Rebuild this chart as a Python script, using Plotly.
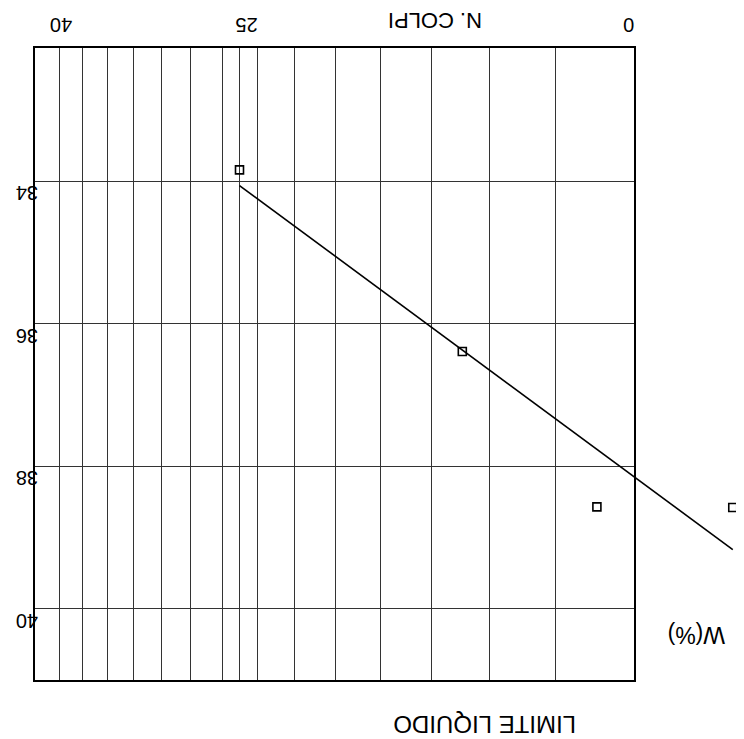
import math
import plotly.graph_objects as go

# ---- data ----
n_colpi = [25, 14.9, 10.9, 7.95]          # N. colpi (blows)
w_pct = [33.84, 36.39, 38.57, 38.58]      # water content W(%)
fit_n = [25, 7.95]                        # regression line ends
fit_w = [34.06, 39.17]
x_grid = [12, 14, 16, 18, 20, 22, 24, 25, 26, 28, 30, 32, 34, 36, 38]
x_tick_pos = [10.3, 24.7, 38.0]
x_tick_text = ["0", "25", "40"]
y_ticks = [34, 36, 38, 40]
y_tick_text = ["34", "36", "38", "40"]

# ---- layout geometry (screen pixels; page body adds an 8px offset) ----
OFF = 8
W, H = 744 - OFF, 739 - OFF
L = 35 - OFF
T = 47.5 - OFF
PLOT_BOTTOM = 680 - OFF
PLOT_RIGHT = 634 - OFF
B = H - PLOT_BOTTOM
paper_w = W - L
paper_h = PLOT_BOTTOM - T
f_main = (PLOT_RIGHT - L) / paper_w

x_left, x_right = 40.2, 10.0
lx_left, lx_right = math.log10(x_left), math.log10(x_right)
px_per_dec = (PLOT_RIGHT - L) / (lx_left - lx_right)
lx2_right = lx_right - (W - PLOT_RIGHT) / px_per_dec
y_range = [41.0, 32.13]


def px(x):
    return (x - OFF - L) / paper_w


def py(y):
    return (PLOT_BOTTOM - (y - OFF)) / paper_h


FONT = "Liberation Sans, Arial, sans-serif"
GRID = "#333333"

fig = go.Figure()
# empty trace so the main (gridded) subplot is rendered
fig.add_trace(go.Scatter(x=[None], y=[None], xaxis="x", yaxis="y",
                         showlegend=False, hoverinfo="skip"))
fig.add_trace(go.Scatter(
    x=fit_n, y=fit_w, mode="lines", xaxis="x2", yaxis="y2",
    line=dict(color="black", width=1.6), showlegend=False, hoverinfo="skip"))
fig.add_trace(go.Scatter(
    x=n_colpi, y=w_pct, mode="markers", xaxis="x2", yaxis="y2",
    marker=dict(symbol="square-open", size=8, color="black",
                line=dict(width=1.6, color="black")),
    cliponaxis=False, showlegend=False))

fig.update_layout(
    width=W, height=H,
    margin=dict(l=L, r=0, t=T, b=B, pad=0, autoexpand=False),
    paper_bgcolor="white", plot_bgcolor="rgba(0,0,0,0)",
    font=dict(family=FONT, color="black"),
    xaxis=dict(
        type="log", domain=[0, f_main], range=[lx_left, lx_right],
        side="top", anchor="y", automargin=False,
        tickmode="array", tickvals=x_tick_pos, ticktext=x_tick_text,
        tickangle=180, tickfont=dict(size=20, family=FONT, color="black"),
        ticklabelshift=-13,
        ticks="", showgrid=False, zeroline=False,
        minor=dict(tickmode="array", tickvals=x_grid, showgrid=True,
                   gridcolor=GRID, gridwidth=1, ticks=""),
        showline=True, mirror=True, linecolor="black", linewidth=2,
    ),
    yaxis=dict(
        domain=[0, 1], range=y_range, anchor="x", automargin=False,
        tickmode="array", tickvals=y_ticks, ticktext=y_tick_text,
        tickangle=180, tickfont=dict(size=20, family=FONT, color="black"),
        ticklabelposition="inside", ticklabelstandoff=4,
        ticks="", showgrid=True, gridcolor=GRID, gridwidth=1,
        zeroline=False, ticklabelshift=-18,
        showline=True, mirror=True, linecolor="black", linewidth=2,
    ),
    xaxis2=dict(
        type="log", domain=[0, 1], range=[lx_left, lx2_right],
        anchor="y2", visible=False,
    ),
    yaxis2=dict(domain=[0, 1], range=y_range, anchor="x2", visible=False),
    annotations=[
        dict(text="N. COLPI", x=px(435), y=py(20), xref="paper", yref="paper",
             xanchor="center", yanchor="middle",
             showarrow=False, textangle=180, font=dict(size=22, family=FONT)),
        dict(text="LIMITE LIQUIDO", x=px(485), y=py(724), xref="paper",
             yref="paper", xanchor="center", yanchor="middle",
             showarrow=False, textangle=180,
             font=dict(size=24, family=FONT)),
        dict(text="W(%)", x=px(697), y=py(635), xref="paper", yref="paper",
             xanchor="center", yanchor="middle",
             showarrow=False, textangle=180, font=dict(size=23, family=FONT)),
    ],
)

fig.write_html("out.html")
